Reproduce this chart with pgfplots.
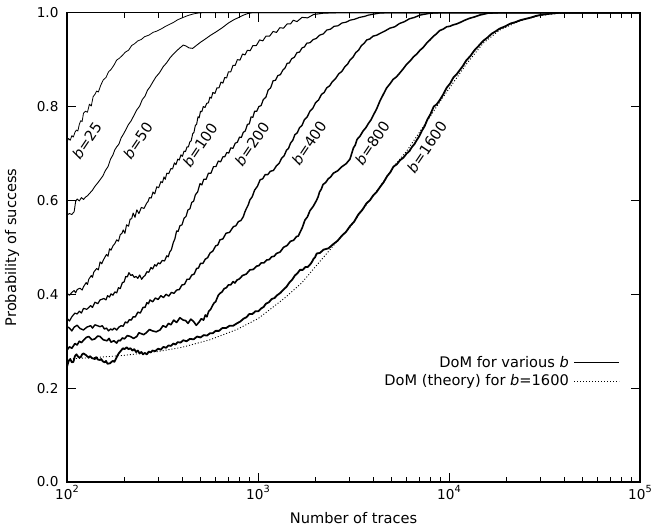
\documentclass[border=0pt]{standalone}
\usepackage{fontspec}
\setmainfont{DejaVu Sans}
\usepackage{pgfplots}
\pgfplotsset{compat=1.18}

\newcommand{\pw}[1]{10\raisebox{0.5em}{\fontsize{9.8}{10}\selectfont #1}}
\newcommand{\lbl}{\fontsize{14.6}{17}\selectfont}

\begin{document}
\begin{tikzpicture}
\begin{axis}[
    width=573pt, height=469.3pt, scale only axis,
    xmode=log, xmin=100, xmax=100000, ymin=0, ymax=1,
    xtick={100,1000,10000,100000},
    xticklabels={\pw{2},\pw{3},\pw{4},\pw{5}},
    ytick={0,0.2,0.4,0.6,0.8,1},
    yticklabels={0.0,0.2,0.4,0.6,0.8,1.0},
    tick label style={font=\fontsize{13.6}{16}\selectfont},
    yticklabel style={xshift=-5pt},
    major tick length=9pt, minor tick length=5pt,
    axis line style={line width=1.2pt},
    every tick/.style={black, line width=0.8pt},
    xlabel={Number of traces}, ylabel={Probability of success},
    label style={font=\lbl},
    xlabel style={at={(axis description cs:0.5,-0.077)}, anchor=center},
    ylabel style={at={(axis description cs:-0.096,0.5)}, anchor=center},
    legend plot pos=right,
    legend cell align=right,
    legend image code/.code={\draw[#1] (0pt,0pt) -- (45pt,0pt);},
    legend style={draw=none, fill=none, font=\lbl,
        at={(axis description cs:0.965,0.275)}, anchor=north east,
        inner sep=0pt, row sep=0pt, nodes={inner ysep=3pt, inner xsep=5pt}},
    every axis plot/.append style={black, line join=round},
]
\coordinate (SW) at (rel axis cs:0,0);
\coordinate (NE) at (rel axis cs:1,1);

% theory curve for b=1600
\addplot[forget plot, line width=0.9pt, dash pattern=on 1pt off 2pt] coordinates {
(100,0.262)(150,0.266)(200,0.270)(300,0.278)(400,0.287)(560,0.303)(775,0.325)
(1000,0.348)(1360,0.390)(1700,0.425)(2030,0.462)(2500,0.505)(3030,0.543)
(3600,0.585)(4360,0.630)(5200,0.675)(6000,0.705)(7000,0.745)(8000,0.780)
(8950,0.810)(10000,0.838)(12300,0.890)(15100,0.935)(18400,0.963)(23600,0.983)
(30000,0.994)(38000,0.999)(45000,1.0)};

% b=25
\addplot[forget plot, line width=0.8pt] coordinates {
(100,0.725)(102,0.732)(104,0.728)(106,0.738)(108,0.735)(110,0.745)(112,0.750)
(114,0.748)(116,0.762)(118,0.770)(120,0.768)(122,0.786)(125,0.790)(128,0.788)
(131,0.805)(134,0.801)(137,0.821)(140,0.826)(143,0.833)(146,0.831)(150,0.845)
(155,0.857)(160,0.862)(165,0.874)(170,0.879)(176,0.888)(182,0.899)(188,0.903)
(195,0.909)(202,0.916)(210,0.920)(218,0.930)(226,0.934)(235,0.940)(245,0.943)
(255,0.949)(268,0.952)(282,0.958)(296,0.961)(310,0.965)(325,0.970)(340,0.974)
(360,0.979)(380,0.985)(406,0.990)(430,0.994)(455,0.997)(480,0.999)(520,1.0)
(100000,1.0)};

% b=50
\addplot[forget plot, line width=0.9pt] coordinates {
(100,0.569)(103,0.572)(106,0.570)(109,0.576)(111,0.598)(113,0.603)(116,0.599)
(119,0.606)(122,0.602)(125,0.607)(128,0.610)(132,0.616)(136,0.622)(140,0.630)
(144,0.636)(149,0.644)(154,0.652)(159,0.664)(164,0.672)(169,0.688)(174,0.697)
(178,0.708)(182,0.714)(187,0.720)(192,0.733)(198,0.742)(204,0.752)(210,0.762)
(217,0.770)(224,0.781)(232,0.793)(240,0.801)(248,0.815)(256,0.822)(264,0.835)
(272,0.842)(282,0.853)(292,0.863)(305,0.872)(319,0.885)(332,0.893)(348,0.905)
(365,0.914)(385,0.923)(406,0.931)(420,0.929)(435,0.925)(455,0.924)(475,0.930)
(500,0.937)(530,0.944)(565,0.952)(608,0.960)(650,0.968)(700,0.978)(740,0.984)
(775,0.988)(830,0.994)(880,0.998)(930,1.0)(100000,1.0)};

% b=100
\addplot[forget plot, line width=1.0pt] coordinates {
(100,0.402)(103,0.398)(106,0.404)(109,0.408)(111,0.403)(113,0.410)(117,0.413)
(120,0.409)(122,0.416)(126,0.425)(128,0.421)(130,0.432)(134,0.440)(136,0.436)
(138,0.447)(143,0.455)(146,0.452)(149,0.469)(152,0.465)(155,0.473)(161,0.485)
(164,0.481)(167,0.497)(170,0.494)(174,0.503)(178,0.508)(182,0.516)(186,0.513)
(190,0.527)(194,0.530)(197,0.537)(201,0.530)(205,0.548)(210,0.545)(214,0.560)
(218,0.561)(222,0.573)(227,0.564)(232,0.580)(238,0.572)(245,0.585)(253,0.583)
(261,0.594)(266,0.598)(270,0.606)(276,0.605)(282,0.618)(288,0.614)(295,0.629)
(302,0.627)(310,0.640)(316,0.638)(322,0.650)(327,0.645)(333,0.658)(341,0.657)
(350,0.668)(357,0.667)(365,0.680)(372,0.676)(380,0.688)(387,0.686)(395,0.697)
(402,0.694)(410,0.705)(417,0.704)(425,0.714)(432,0.714)(440,0.725)(447,0.727)
(455,0.742)(462,0.745)(470,0.760)(477,0.762)(485,0.778)(492,0.776)(500,0.790)
(508,0.789)(517,0.800)(528,0.798)(539,0.807)(550,0.808)(560,0.820)(570,0.818)
(580,0.830)(595,0.828)(610,0.840)(625,0.840)(640,0.852)(655,0.850)(670,0.862)
(685,0.861)(700,0.874)(720,0.874)(740,0.888)(760,0.888)(780,0.900)(805,0.899)
(830,0.912)(855,0.910)(880,0.920)(910,0.919)(940,0.930)(980,0.930)(1020,0.942)
(1060,0.940)(1100,0.950)(1150,0.950)(1200,0.960)(1250,0.958)(1300,0.968)
(1360,0.967)(1420,0.976)(1480,0.976)(1530,0.984)(1600,0.981)(1700,0.990)
(1820,0.989)(1950,0.996)(2200,0.999)(2600,1.0)(100000,1.0)};

% b=200
\addplot[forget plot, line width=1.2pt] coordinates {
(100,0.349)(103,0.343)(106,0.352)(110,0.360)(113,0.358)(116,0.364)(119,0.360)
(122,0.370)(127,0.368)(133,0.376)(136,0.372)(140,0.383)(145,0.380)(149,0.388)
(156,0.391)(160,0.388)(163,0.397)(167,0.394)(170,0.401)(174,0.398)(178,0.405)
(182,0.403)(186,0.414)(190,0.412)(195,0.425)(199,0.426)(203,0.438)(207,0.437)
(211,0.446)(216,0.440)(220,0.442)(225,0.436)(230,0.438)(235,0.434)(240,0.441)
(246,0.432)(251,0.437)(256,0.440)(262,0.448)(268,0.447)(275,0.457)(281,0.454)
(288,0.463)(294,0.460)(300,0.467)(307,0.465)(315,0.472)(324,0.471)(333,0.482)
(339,0.480)(345,0.490)(352,0.495)(360,0.510)(367,0.518)(375,0.535)(382,0.534)
(390,0.546)(400,0.548)(410,0.562)(420,0.566)(430,0.580)(440,0.582)(450,0.596)
(460,0.598)(470,0.612)(483,0.618)(497,0.636)(508,0.633)(520,0.645)(535,0.645)
(550,0.658)(567,0.658)(585,0.672)(602,0.672)(620,0.684)(637,0.682)(655,0.693)
(670,0.693)(686,0.702)(703,0.701)(720,0.712)(740,0.711)(760,0.722)(780,0.724)
(800,0.735)(818,0.734)(837,0.745)(858,0.748)(880,0.762)(900,0.763)(920,0.778)
(940,0.777)(960,0.790)(985,0.790)(1010,0.800)(1038,0.802)(1066,0.815)
(1100,0.820)(1130,0.835)(1165,0.840)(1200,0.855)(1235,0.856)(1270,0.866)
(1310,0.868)(1350,0.878)(1385,0.882)(1420,0.892)(1460,0.893)(1500,0.902)
(1550,0.905)(1600,0.915)(1650,0.916)(1700,0.925)(1750,0.927)(1800,0.935)
(1870,0.936)(1950,0.943)(2020,0.945)(2100,0.952)(2200,0.955)(2290,0.963)
(2400,0.965)(2500,0.971)(2620,0.972)(2750,0.978)(2900,0.980)(3030,0.984)
(3200,0.986)(3400,0.990)(3600,0.992)(3800,0.995)(4300,0.999)(4800,1.0)
(100000,1.0)};

% b=400
\addplot[forget plot, line width=1.4pt] coordinates {
(100,0.331)(103,0.328)(106,0.322)(109,0.330)(113,0.334)(117,0.327)(122,0.324)
(127,0.330)(133,0.333)(136,0.328)(140,0.335)(149,0.331)(153,0.333)(157,0.326)
(161,0.328)(165,0.322)(169,0.326)(173,0.324)(177,0.328)(182,0.324)(187,0.330)
(192,0.333)(197,0.332)(202,0.341)(207,0.339)(212,0.346)(217,0.345)(222,0.352)
(228,0.352)(235,0.362)(242,0.360)(250,0.372)(256,0.372)(262,0.382)(267,0.380)
(272,0.388)(281,0.384)(290,0.392)(300,0.389)(310,0.397)(320,0.393)(330,0.400)
(341,0.396)(352,0.404)(363,0.402)(375,0.409)(387,0.410)(400,0.420)(412,0.421)
(425,0.432)(437,0.432)(450,0.441)(463,0.443)(477,0.455)(488,0.456)(500,0.466)
(515,0.466)(530,0.475)(545,0.478)(561,0.488)(580,0.492)(600,0.503)(616,0.505)
(632,0.516)(655,0.518)(680,0.530)(710,0.532)(743,0.544)(766,0.546)(790,0.555)
(813,0.557)(837,0.565)(853,0.575)(870,0.583)(888,0.590)(907,0.601)(933,0.608)
(960,0.622)(993,0.630)(1026,0.644)(1058,0.646)(1090,0.655)(1125,0.655)
(1160,0.662)(1205,0.664)(1250,0.674)(1290,0.679)(1330,0.690)(1370,0.695)
(1410,0.707)(1445,0.711)(1480,0.722)(1520,0.728)(1560,0.740)(1605,0.744)
(1650,0.755)(1700,0.760)(1750,0.772)(1810,0.778)(1870,0.790)(1935,0.796)
(2000,0.808)(2075,0.814)(2150,0.826)(2220,0.830)(2290,0.840)(2370,0.844)
(2450,0.853)(2550,0.860)(2650,0.870)(2750,0.875)(2850,0.885)(2940,0.890)
(3030,0.899)(3140,0.905)(3250,0.915)(3360,0.920)(3480,0.930)(3600,0.935)
(3710,0.942)(3850,0.944)(4000,0.950)(4180,0.952)(4360,0.956)(4620,0.961)
(4900,0.967)(5200,0.970)(5510,0.977)(5850,0.981)(6200,0.987)(6600,0.990)
(7060,0.995)(8000,0.999)(9000,1.0)(100000,1.0)};

% b=800
\addplot[forget plot, line width=1.6pt] coordinates {
(100,0.281)(103,0.288)(106,0.285)(110,0.295)(113,0.292)(116,0.300)(119,0.297)
(122,0.302)(126,0.308)(130,0.310)(135,0.303)(140,0.305)(145,0.311)(149,0.310)
(155,0.303)(162,0.301)(166,0.306)(170,0.298)(176,0.301)(182,0.296)(186,0.302)
(190,0.301)(195,0.307)(200,0.305)(207,0.312)(215,0.310)(223,0.306)(232,0.310)
(238,0.318)(245,0.316)(252,0.314)(260,0.318)(270,0.325)(280,0.322)(293,0.320)
(307,0.324)(318,0.333)(330,0.330)(340,0.338)(350,0.335)(362,0.345)(375,0.340)
(390,0.350)(406,0.345)(418,0.344)(430,0.338)(445,0.347)(460,0.342)(475,0.334)
(490,0.340)(505,0.348)(519,0.345)(530,0.356)(540,0.352)(552,0.364)(565,0.368)
(578,0.376)(590,0.382)(600,0.384)(608,0.390)(620,0.398)(632,0.402)(648,0.405)
(665,0.412)(683,0.414)(700,0.420)(720,0.420)(740,0.427)(757,0.424)(775,0.430)
(800,0.433)(830,0.440)(868,0.443)(907,0.452)(945,0.453)(983,0.460)(1010,0.461)
(1040,0.467)(1075,0.467)(1110,0.473)(1145,0.474)(1180,0.480)(1215,0.481)
(1250,0.487)(1305,0.490)(1360,0.500)(1420,0.504)(1480,0.513)(1535,0.515)
(1590,0.523)(1625,0.524)(1660,0.532)(1710,0.543)(1760,0.558)(1815,0.565)
(1870,0.578)(1950,0.588)(2030,0.601)(2065,0.608)(2100,0.618)(2145,0.624)
(2190,0.634)(2260,0.638)(2330,0.646)(2400,0.650)(2480,0.658)(2610,0.663)
(2750,0.672)(2890,0.678)(3030,0.688)(3095,0.700)(3160,0.712)(3230,0.718)
(3300,0.730)(3420,0.737)(3550,0.748)(3670,0.755)(3800,0.765)(3910,0.772)
(4020,0.782)(4180,0.795)(4350,0.812)(4530,0.826)(4720,0.840)(4900,0.848)
(5100,0.858)(5300,0.863)(5510,0.871)(5750,0.880)(6000,0.890)(6250,0.897)
(6520,0.906)(6780,0.912)(7050,0.920)(7330,0.926)(7630,0.935)(7950,0.942)
(8300,0.950)(8600,0.955)(8950,0.962)(9320,0.965)(9720,0.970)(10100,0.971)
(10500,0.974)(10950,0.976)(11400,0.979)(12100,0.984)(12800,0.988)(13600,0.991)
(14500,0.995)(16000,0.999)(18000,1.0)(100000,1.0)};

% b=1600
\addplot[forget plot, line width=1.8pt] coordinates {
(100,0.246)(102,0.258)(104,0.262)(106,0.255)(108,0.256)(110,0.268)(112,0.272)
(115,0.266)(118,0.266)(120,0.272)(122,0.274)(126,0.270)(130,0.265)(132,0.268)
(135,0.264)(140,0.262)(142,0.266)(145,0.261)(149,0.260)(151,0.262)(154,0.257)
(158,0.255)(160,0.258)(163,0.252)(168,0.253)(171,0.256)(174,0.258)(177,0.256)
(180,0.262)(184,0.270)(188,0.276)(192,0.280)(196,0.285)(200,0.283)(205,0.287)
(210,0.283)(215,0.285)(220,0.280)(225,0.283)(230,0.277)(235,0.280)(240,0.274)
(245,0.277)(250,0.272)(255,0.275)(262,0.272)(268,0.278)(274,0.276)(280,0.280)
(290,0.279)(300,0.284)(310,0.282)(320,0.288)(330,0.286)(340,0.291)(350,0.290)
(360,0.295)(370,0.293)(380,0.298)(393,0.297)(406,0.302)(423,0.300)(440,0.305)
(460,0.304)(480,0.310)(500,0.308)(520,0.313)(540,0.312)(561,0.317)(580,0.317)
(600,0.322)(625,0.322)(650,0.328)(680,0.328)(710,0.333)(742,0.333)(775,0.338)
(808,0.342)(840,0.348)(870,0.351)(900,0.358)(935,0.358)(970,0.364)(1005,0.364)
(1040,0.370)(1070,0.373)(1100,0.380)(1140,0.383)(1180,0.390)(1220,0.392)
(1260,0.398)(1310,0.403)(1360,0.410)(1410,0.416)(1460,0.425)(1510,0.431)
(1560,0.440)(1610,0.445)(1660,0.452)(1715,0.452)(1770,0.458)(1820,0.458)
(1870,0.463)(1910,0.468)(1950,0.475)(1990,0.479)(2030,0.487)(2110,0.488)
(2200,0.495)(2340,0.498)(2480,0.507)(2610,0.514)(2750,0.525)(2890,0.533)
(3030,0.545)(3190,0.555)(3350,0.570)(3520,0.580)(3700,0.594)(3850,0.600)
(4000,0.610)(4180,0.618)(4360,0.629)(4550,0.639)(4750,0.652)(4930,0.660)
(5120,0.672)(5330,0.677)(5550,0.686)(5770,0.691)(6000,0.700)(6200,0.705)
(6400,0.714)(6590,0.720)(6790,0.729)(6990,0.737)(7200,0.748)(7450,0.758)
(7700,0.772)(8000,0.784)(8320,0.800)(8630,0.805)(8950,0.814)(9330,0.826)
(9720,0.840)(10130,0.849)(10550,0.862)(10970,0.869)(11400,0.878)(11840,0.887)
(12300,0.898)(12950,0.908)(13600,0.920)(14350,0.930)(15100,0.940)(15900,0.947)
(16700,0.955)(17500,0.960)(18400,0.966)(19700,0.971)(21000,0.977)(22300,0.980)
(23600,0.984)(25300,0.987)(27000,0.990)(28500,0.993)(30000,0.995)(34000,0.998)
(38000,1.0)(100000,1.0)};

\addlegendimage{black, line width=0.8pt}
\addlegendentry{DoM for various \textit{b}}
\addlegendimage{black, line width=0.9pt, dash pattern=on 1pt off 2pt}
\addlegendentry{DoM (theory) for \textit{b}=1600}

\begin{scope}[every node/.style={rotate=56, font=\lbl, inner sep=0pt}]
\node at (axis cs:127,0.727) {\textit{b}=25};
\node at (axis cs:235,0.727) {\textit{b}=50};
\node at (axis cs:497,0.718) {\textit{b}=100};
\node at (axis cs:929,0.720) {\textit{b}=200};
\node at (axis cs:1850,0.722) {\textit{b}=400};
\node at (axis cs:3960,0.722) {\textit{b}=800};
\node at (axis cs:7660,0.714) {\textit{b}=1600};
\end{scope}
\end{axis}
\pgfresetboundingbox
\path[use as bounding box] ([shift={(-67pt,-49pt)}]SW) rectangle ([shift={(12pt,12.7pt)}]NE);
\end{tikzpicture}
\end{document}
